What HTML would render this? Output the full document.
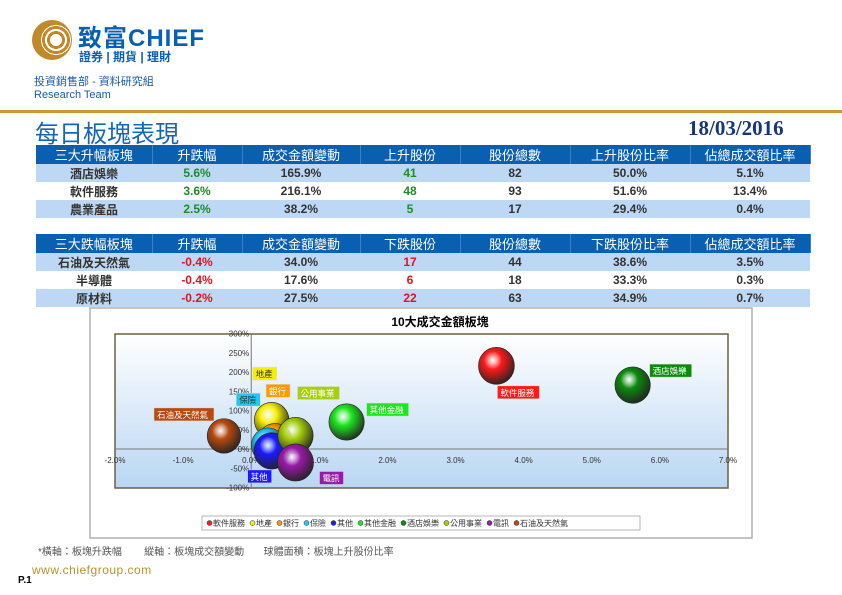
<!DOCTYPE html>
<html><head><meta charset="utf-8">
<style>
body{margin:0;width:842px;height:595px;position:relative;background:#fff;font-family:"Liberation Sans","Noto Sans CJK TC",sans-serif;overflow:hidden}
.abs{position:absolute}
table{border-collapse:collapse;position:absolute;left:36px;width:774px;font-size:12px;font-weight:bold;table-layout:fixed}
td{height:18px;padding:0;text-align:center;color:#333}
tr.h td{background:#0b5fb0;color:#fff;font-weight:normal;font-size:13px;border-right:1px solid #3d80c4}
tr.b td{background:#bcd8f4}
tr.w td{background:#fff}
.g{color:#1e8c28}.r{color:#e0141c}
</style></head><body>
<div class="abs" style="left:32px;top:20px;width:40px;height:40px;border-radius:50%;background:radial-gradient(circle at 60% 50%,#fff 0 6px,#c08a2a 6px 9px,#fff 9px 11px,#c08a2a 11px 14px,#fff 14px 15px,#c08a2a 15px)"></div>
<div class="abs" style="left:78px;top:18px;font-size:24px;font-weight:bold;color:#0b5fb0;letter-spacing:1px">致富CHIEF</div>
<div class="abs" style="left:79px;top:48px;font-size:12px;color:#0b5fb0;font-weight:bold">證券 | 期貨 | 理財</div>
<div class="abs" style="left:34px;top:73px;font-size:11px;color:#1b5aa5">投資銷售部 - 資料研究組</div>
<div class="abs" style="left:34px;top:89px;font-size:11px;color:#1b5aa5">Research Team</div>
<div class="abs" style="left:0;top:110px;width:842px;height:3px;background:#c59a3a"></div>
<div class="abs" style="left:35px;top:114px;font-size:24px;color:#1366b8">每日板塊表現</div>
<div class="abs" style="left:688px;top:116px;font-size:21px;font-weight:bold;color:#16367a;font-family:'Liberation Serif',serif">18/03/2016</div>

<table style="top:145px">
<colgroup><col style="width:116px"><col style="width:90px"><col style="width:118px"><col style="width:100px"><col style="width:110px"><col style="width:120px"><col style="width:120px"></colgroup>
<tr class="h"><td>三大升幅板塊</td><td>升跌幅</td><td>成交金額變動</td><td>上升股份</td><td>股份總數</td><td>上升股份比率</td><td>佔總成交額比率</td></tr>
<tr class="b"><td>酒店娛樂</td><td class="g">5.6%</td><td>165.9%</td><td class="g">41</td><td>82</td><td>50.0%</td><td>5.1%</td></tr>
<tr class="w"><td>軟件服務</td><td class="g">3.6%</td><td>216.1%</td><td class="g">48</td><td>93</td><td>51.6%</td><td>13.4%</td></tr>
<tr class="b"><td>農業產品</td><td class="g">2.5%</td><td>38.2%</td><td class="g">5</td><td>17</td><td>29.4%</td><td>0.4%</td></tr>
</table>
<table style="top:234px">
<colgroup><col style="width:116px"><col style="width:90px"><col style="width:118px"><col style="width:100px"><col style="width:110px"><col style="width:120px"><col style="width:120px"></colgroup>
<tr class="h"><td>三大跌幅板塊</td><td>升跌幅</td><td>成交金額變動</td><td>下跌股份</td><td>股份總數</td><td>下跌股份比率</td><td>佔總成交額比率</td></tr>
<tr class="b"><td>石油及天然氣</td><td class="r">-0.4%</td><td>34.0%</td><td class="r">17</td><td>44</td><td>38.6%</td><td>3.5%</td></tr>
<tr class="w"><td>半導體</td><td class="r">-0.4%</td><td>17.6%</td><td class="r">6</td><td>18</td><td>33.3%</td><td>0.3%</td></tr>
<tr class="b"><td>原材料</td><td class="r">-0.2%</td><td>27.5%</td><td class="r">22</td><td>63</td><td>34.9%</td><td>0.7%</td></tr>
</table>

<svg id="chart" class="abs" style="left:0;top:0" width="842" height="595">
<defs>
<linearGradient id="bg" x1="0" y1="0" x2="0" y2="1"><stop offset="0" stop-color="#ffffff"/><stop offset="1" stop-color="#b9d6f3"/></linearGradient>
</defs>
<rect x="90" y="308" width="662" height="230" fill="#fff" stroke="#b0b0b0" stroke-width="1.5"/>
<text x="440" y="326" text-anchor="middle" font-size="12" font-weight="bold" fill="#000">10大成交金額板塊</text>
<rect x="115" y="334" width="613" height="154" fill="url(#bg)" stroke="#6b6040" stroke-width="1.5"/>
<g id="axes"></g><g id="bubbles"></g><g id="labels"></g>
<rect x="202" y="516" width="438" height="14" fill="#fff" stroke="#999" stroke-width="0.7"/>
<g id="legend"></g>
</svg>

<div class="abs" style="left:38px;top:543px;font-size:10px;color:#555;word-spacing:0">*橫軸：板塊升跌幅&nbsp;&nbsp;&nbsp;&nbsp;&nbsp;&nbsp;&nbsp;&nbsp;縱軸：板塊成交額變動&nbsp;&nbsp;&nbsp;&nbsp;&nbsp;&nbsp;&nbsp;球體面積：板塊上升股份比率</div>
<div class="abs" style="left:32px;top:563px;font-size:12px;color:#b8922f;letter-spacing:0.5px">www.chiefgroup.com</div>
<div class="abs" style="left:18px;top:575px;font-size:10px;font-weight:bold;color:#000">P.1</div>

<script>
const sectors=["軟件服務","地產","銀行","保險","其他","其他金融","酒店娛樂","公用事業","電訊","石油及天然氣"];
const xChange=[3.6,0.3,0.35,0.25,0.3,1.4,5.6,0.65,0.65,-0.4];
const yTurnover=[216,75,20,10,-5,70,166,35,-35,34];
const riseRatio=[51.6,48,48,45,50,50,50,50,52,45];
const colors=["#ff1a1a","#f5f000","#ff9a00","#22c8f0","#1a1aff","#1ee61e","#0c8a0c","#a8d00a","#9a1aa8","#b84a10"];
const xTicks=[-2,-1,0,1,2,3,4,5,6,7];
const yTicks=[-100,-50,0,50,100,150,200,250,300];
const labelOffsets=[[1,20],[-19,-53],[-9,-57],[-32,-52],[-24,19],[20,-19],[17,-21],[2,-49],[24,9],[-70,-28]];
const X=v=>115+(v+2)*(613/9), Y=v=>449-v*(154/400);
const ns="http://www.w3.org/2000/svg";
function mk(t,a,p){const e=document.createElementNS(ns,t);for(const k in a)e.setAttribute(k,a[k]);p.appendChild(e);return e;}
const ax=document.getElementById('axes');
mk('line',{x1:115,x2:728,y1:Y(0),y2:Y(0),stroke:'#777','stroke-width':1},ax);
mk('line',{x1:X(0),x2:X(0),y1:334,y2:488,stroke:'#777','stroke-width':1},ax);
xTicks.forEach(t=>{const e=mk('text',{x:X(t),y:Y(0)+14,'text-anchor':'middle','font-size':8,fill:'#333'},ax);e.textContent=t.toFixed(1)+'%';
});
yTicks.forEach(t=>{const e=mk('text',{x:X(0)-2,y:Y(t)+3,'text-anchor':'end','font-size':8,fill:'#333'},ax);e.textContent=t+'%';
});
const defs=document.querySelector('defs');
const bg=document.getElementById('bubbles'),lg=document.getElementById('labels'),leg=document.getElementById('legend');
sectors.forEach((s,i)=>{
 const gr=mk('radialGradient',{id:'g'+i,cx:'0.4',cy:'0.35',r:'0.7'},defs);
 mk('stop',{offset:'0','stop-color':'#fff','stop-opacity':'0.8'},gr);
 mk('stop',{offset:'0.35','stop-color':colors[i]},gr);
 mk('stop',{offset:'1','stop-color':'#222'},gr);
 const r=Math.sqrt(riseRatio[i])*2.5;
 const c=mk('ellipse',{cx:X(xChange[i]),cy:Y(yTurnover[i]),rx:r,ry:r*1.03,fill:'url(#g'+i+')',stroke:'#222','stroke-width':0.6},bg);
 
 
 const lx=X(xChange[i])+labelOffsets[i][0],ly=Y(yTurnover[i])+labelOffsets[i][1];
 const w=s.length*9+6;
 const br=mk('rect',{x:lx,y:ly,width:w,height:13,fill:colors[i],stroke:'#ddd','stroke-width':0.5},lg);
 
 
 const t=mk('text',{x:lx+3,y:ly+10,'font-size':8.5,fill:(i==1||i==3)?'#333':'#fff'},lg);t.textContent=s;
 
 
});
let lx=207;
sectors.forEach((s,i)=>{
 const d=mk('circle',{cx:lx+2.5,cy:523,r:2.5,fill:colors[i],stroke:'#333','stroke-width':0.5},leg);
 
 
 const t=mk('text',{x:lx+6,y:526,'font-size':8,fill:'#333'},leg);t.textContent=s;
 
 
 lx+=6+s.length*8+5;
});
</script>
</body></html>
